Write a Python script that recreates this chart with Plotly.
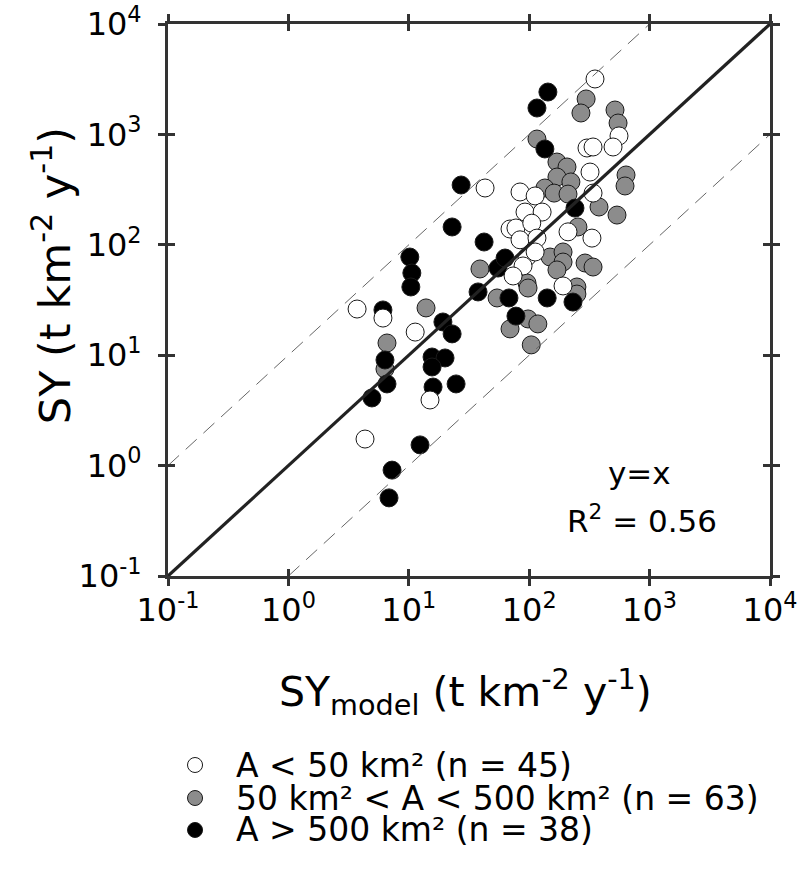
import plotly.graph_objects as go

# ---- data (SY_model, SY) in t km-2 y-1 ----
small_x = [352, 557, 302, 339, 497, 320, 339, 43.0, 83.9, 112, 92.3, 128, 69.3, 77.6, 105,
           210, 332, 83.9, 116, 95.9, 112, 88.9, 73.5, 191, 3.72, 6.1, 11.3, 15.0, 4.33]
small_y = [3177, 969, 753, 769, 769, 456, 294, 327, 301, 277, 198, 198, 139, 142, 157,
           131, 115, 111, 115, 77.5, 86.1, 64.3, 52.2, 42.4, 26.2, 21.7, 16.2, 3.93, 1.74]

mid_x = [297, 269, 516, 547, 116, 170, 206, 637, 625, 170, 222, 135, 161, 210, 380, 536, 254,
         149, 191, 191, 170, 291, 339, 39.0, 95.9, 97.8, 249, 249, 54.1, 97.8, 118, 69.3, 104,
         13.9, 6.59, 6.34]
mid_y = [2094, 1563, 1663, 1268, 908, 562, 507, 429, 341, 411, 371, 327, 294, 288, 220, 186, 145,
         77.5, 86.1, 69.8, 59.2, 68.4, 62.9, 60.4, 45.1, 40.6, 41.5, 35.8, 33.0, 21.3, 19.2, 17.3, 12.4,
         26.8, 12.9, 7.50]

large_x = [143, 116, 135, 27.2, 22.9, 42.2, 10.2, 10.6, 10.4, 6.1, 240, 55.1, 63, 37.6, 67.9,
           141, 231, 77.6, 19.2, 22.9, 6.34, 6.59, 4.94, 15.6, 20.0, 15.6, 15.9, 24.7, 12.4, 7.26, 6.85]
large_y = [2420, 1734, 738, 348, 145, 106, 77.5, 55.5, 41.5, 25.7, 215, 61.6, 75.9, 37.4, 33.0,
           33.0, 30.3, 22.6, 20.0, 15.6, 9.05, 5.49, 4.10, 9.63, 9.44, 7.82, 5.15, 5.49, 1.54, 0.91, 0.51]

labels = ["A &lt; 50 km² (n = 45)", "50 km² &lt; A &lt; 500 km² (n = 63)", "A &gt; 500 km² (n = 38)"]
colors = ["#ffffff", "#8c8c8c", "#000000"]
tick_vals = [0.1, 1, 10, 100, 1000, 10000]
tick_text = ["10<sup>-1</sup>", "10<sup>0</sup>", "10<sup>1</sup>", "10<sup>2</sup>", "10<sup>3</sup>", "10<sup>4</sup>"]
x_title = "SY<sub>model</sub> (t km<sup>-2</sup> y<sup>-1</sup>)"
y_title = "SY (t km<sup>-2</sup> y<sup>-1</sup>)"
line_x = [0.1, 10000]
upper_x = [0.1, 1000]
lower_x = [1, 10000]

FONT = "DejaVu Sans, Liberation Sans, Arial, sans-serif"
MS = 18
outline = dict(color="#1a1a1a", width=1)

fig = go.Figure()
fig.add_trace(go.Scatter(x=mid_x, y=mid_y, mode="markers", name=labels[1], showlegend=False,
                         marker=dict(size=MS, color=colors[1], line=outline)))
fig.add_trace(go.Scatter(x=large_x, y=large_y, mode="markers", name=labels[2], showlegend=False,
                         marker=dict(size=MS, color=colors[2], line=outline)))
fig.add_trace(go.Scatter(x=small_x, y=small_y, mode="markers", name=labels[0], showlegend=False,
                         marker=dict(size=MS, color=colors[0], line=outline)))
# reference lines
fig.add_trace(go.Scatter(x=upper_x, y=[v * 10 for v in upper_x], mode="lines", showlegend=False,
                         line=dict(color="#666666", width=1, dash="15px,9px")))
fig.add_trace(go.Scatter(x=lower_x, y=[v / 10 for v in lower_x], mode="lines", showlegend=False,
                         line=dict(color="#666666", width=1, dash="15px,9px")))
fig.add_trace(go.Scatter(x=line_x, y=line_x, mode="lines", showlegend=False,
                         line=dict(color="#222222", width=3.2)))
# dummy trace for inner-tick overlay axes
fig.add_trace(go.Scatter(x=[1], y=[1], xaxis="x2", yaxis="y2", mode="markers", showlegend=False,
                         marker=dict(opacity=0), hoverinfo="skip"))

axis_common = dict(type="log", range=[-1, 4], tickvals=tick_vals, showgrid=False, zeroline=False,
                   automargin=False)

# custom legend (compact rows, as in the reference)
leg_rows_y = [-0.3424, -0.4022, -0.4601]
leg_cx, rx, ry = 0.0449, 0.0125, 0.0136
shapes = []
annotations = []
for lab, col, ly in zip(labels, colors, leg_rows_y):
    shapes.append(dict(type="circle", xref="paper", yref="paper",
                       x0=leg_cx - rx, x1=leg_cx + rx, y0=ly - ry, y1=ly + ry,
                       fillcolor=col, line=dict(color="#1a1a1a", width=1)))
    annotations.append(dict(text=lab, x=0.1096, y=ly, xref="paper", yref="paper", showarrow=False,
                            xanchor="left", yanchor="middle", font=dict(size=33, family=FONT)))

annotations += [
    dict(text="y=x", x=0.784, y=0.186, xref="paper", yref="paper", showarrow=False,
         font=dict(size=31, family=FONT), xanchor="center", yanchor="middle"),
    dict(text="R<sup>2</sup> = 0.56", x=0.787, y=0.104, xref="paper", yref="paper", showarrow=False,
         font=dict(size=31, family=FONT), xanchor="center", yanchor="middle"),
    dict(text=x_title, x=0.495, y=-0.2101, xref="paper", yref="paper", showarrow=False,
         font=dict(size=41, family=FONT), xanchor="center", yanchor="middle"),
    dict(text=y_title, x=-0.1927, y=0.545, xref="paper", yref="paper", showarrow=False,
         textangle=-90, font=dict(size=43, family=FONT), xanchor="center", yanchor="middle"),
]

fig.update_layout(
    width=811, height=870,
    margin=dict(l=168, r=41, t=24, b=294, autoexpand=False),
    paper_bgcolor="white", plot_bgcolor="white",
    font=dict(family=FONT, color="black"),
    showlegend=False,
    xaxis=dict(**axis_common, ticktext=tick_text, ticks="outside", ticklen=7, tickwidth=2.5,
               tickcolor="#333", showline=True, linewidth=3, linecolor="#333", mirror="ticks",
               tickfont=dict(size=32, family=FONT), ticklabelstandoff=-3, ticklabeloverflow="allow"),
    yaxis=dict(**axis_common, ticktext=tick_text, ticks="outside", ticklen=7, tickwidth=2.5,
               tickcolor="#333", showline=True, linewidth=3, linecolor="#333", mirror="ticks",
               tickfont=dict(size=32, family=FONT), ticklabelstandoff=10, ticklabeloverflow="allow"),
    xaxis2=dict(**axis_common, overlaying="x", ticks="inside", ticklen=7, tickwidth=2.5,
                tickcolor="#333", mirror="ticks", showticklabels=False, showline=False),
    yaxis2=dict(**axis_common, overlaying="y", ticks="inside", ticklen=7, tickwidth=2.5,
                tickcolor="#333", mirror="ticks", showticklabels=False, showline=False),
    shapes=shapes,
    annotations=annotations,
)

# remove the default page margin so the 811x870 figure fills the window exactly; no modebar
fig.write_html("out.html", config={"displayModeBar": False},
               post_script="document.body.style.margin='0px';")
